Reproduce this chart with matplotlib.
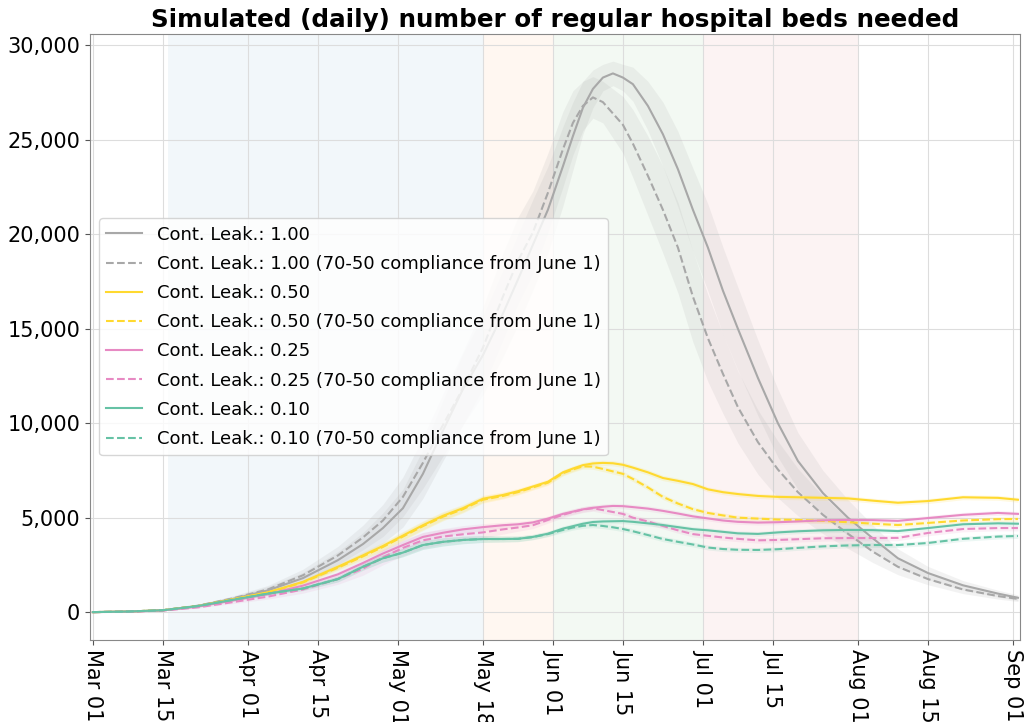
import matplotlib
matplotlib.use("Agg")
import matplotlib.pyplot as plt
import matplotlib.dates as mdates
import numpy as np
import pandas as pd

# ---------------- data ----------------
dates = ["2020-03-01", "2020-03-08", "2020-03-15", "2020-03-22", "2020-03-29",
         "2020-04-05", "2020-04-12", "2020-04-19", "2020-04-24", "2020-04-28",
         "2020-05-02", "2020-05-06", "2020-05-10", "2020-05-14", "2020-05-18",
         "2020-05-22", "2020-05-25", "2020-05-28", "2020-05-31", "2020-06-03",
         "2020-06-05", "2020-06-07", "2020-06-09", "2020-06-11", "2020-06-13",
         "2020-06-15", "2020-06-17", "2020-06-20", "2020-06-23", "2020-06-26",
         "2020-06-29", "2020-07-02", "2020-07-05", "2020-07-08", "2020-07-12",
         "2020-07-16", "2020-07-20", "2020-07-25", "2020-07-30", "2020-08-04",
         "2020-08-09", "2020-08-15", "2020-08-22", "2020-08-29", "2020-09-02"]

leak100 = [0, 30, 100, 330, 700, 1150, 1800, 2750, 3600, 4450,
           5500, 7320, 9600, 11800, 13600, 15800, 17600, 19450, 21300, 23600,
           25200, 26700, 27700, 28300, 28520, 28300, 27950, 26800, 25300, 23450,
           21300, 19300, 17020, 15000, 12400, 10000, 8000, 6300, 5000, 3900,
           2850, 2070, 1420, 980, 760]
leak100_c = [0, 30, 100, 340, 730, 1200, 1950, 3000, 3950, 4850,
             6100, 7900, 9900, 11850, 14000, 16700, 18600, 20100, 22200, 24500,
             25900, 26800, 27250, 27000, 26400, 25800, 24800, 23100, 21300, 19300,
             16700, 14500, 12620, 10850, 9000, 7550, 6350, 5150, 4150, 3200,
             2400, 1750, 1200, 850, 700]
leak050 = [0, 30, 100, 320, 680, 1050, 1600, 2400, 3000, 3500,
           4050, 4600, 5100, 5500, 6000, 6200, 6400, 6650, 6900, 7400,
           7600, 7780, 7870, 7900, 7880, 7800, 7650, 7400, 7100, 6950,
           6780, 6500, 6350, 6250, 6150, 6100, 6080, 6050, 6020, 5900,
           5790, 5880, 6080, 6050, 5950]
leak050_c = [0, 30, 100, 320, 670, 1030, 1570, 2350, 2950, 3450,
             4000, 4550, 5050, 5450, 5950, 6150, 6350, 6600, 6850, 7350,
             7550, 7720, 7700, 7580, 7450, 7320, 7050, 6600, 6100, 5750,
             5450, 5250, 5120, 5000, 4950, 4900, 4880, 4830, 4760, 4680,
             4610, 4720, 4850, 4920, 4930]
leak025 = [0, 25, 90, 290, 620, 950, 1400, 2000, 2600, 3100,
           3550, 3980, 4200, 4380, 4500, 4600, 4650, 4750, 4950, 5200,
           5320, 5440, 5520, 5580, 5620, 5610, 5560, 5480, 5360, 5220,
           5070, 4960, 4850, 4780, 4740, 4760, 4800, 4860, 4880, 4870,
           4830, 4980, 5150, 5250, 5200]
leak025_c = [0, 20, 80, 250, 530, 820, 1200, 1750, 2300, 2900,
             3400, 3800, 4000, 4120, 4220, 4380, 4480, 4600, 4880, 5150,
             5300, 5430, 5500, 5400, 5300, 5200, 5000, 4800, 4560, 4330,
             4130, 4040, 3950, 3880, 3800, 3820, 3860, 3910, 3920, 3920,
             3930, 4190, 4400, 4450, 4450]
leak010 = [0, 30, 100, 320, 650, 980, 1250, 1750, 2400, 2850,
           3150, 3550, 3720, 3820, 3870, 3870, 3880, 3980, 4150, 4420,
           4550, 4680, 4770, 4800, 4810, 4820, 4780, 4700, 4610, 4500,
           4390, 4330, 4250, 4170, 4140, 4220, 4280, 4330, 4350, 4340,
           4290, 4450, 4650, 4700, 4680]
leak010_c = [0, 30, 100, 320, 650, 980, 1250, 1750, 2400, 2850,
             3150, 3550, 3720, 3820, 3870, 3870, 3880, 3970, 4130, 4350,
             4480, 4570, 4610, 4560, 4490, 4400, 4280, 4080, 3870, 3720,
             3580, 3420, 3340, 3300, 3290, 3330, 3400, 3480, 3530, 3550,
             3550, 3660, 3880, 4000, 4030]

# half-widths of the shaded uncertainty bands
band100 = [0, 5, 20, 60, 120, 200, 300, 450, 600, 800,
           1000, 1300, 1600, 1900, 2100, 2300, 2400, 2400, 2300, 2100,
           1800, 1400, 1000, 700, 650, 700, 900, 1300, 1700, 2000,
           2200, 2300, 2300, 2200, 2000, 1800, 1500, 1200, 950, 700,
           500, 350, 250, 180, 150]
band100_c = [0, 5, 20, 60, 130, 210, 320, 480, 650, 850,
             1050, 1350, 1650, 1950, 2150, 2300, 2300, 2200, 2100, 2000,
             1700, 1300, 1100, 1100, 1300, 1500, 1800, 2100, 2300, 2400,
             2400, 2300, 2100, 1900, 1700, 1500, 1250, 1000, 780, 580,
             420, 300, 220, 160, 140]
band_small = [0, 5, 10, 25, 50, 80, 110, 150, 180, 200,
              220, 230, 220, 200, 180, 160, 150, 140, 140, 140,
              140, 140, 140, 140, 140, 140, 140, 140, 140, 140,
              130, 130, 130, 130, 130, 130, 130, 130, 130, 130,
              130, 130, 130, 130, 130]
band_pink_c = [0, 5, 15, 40, 80, 130, 200, 280, 350, 400,
               420, 420, 400, 350, 300, 250, 200, 180, 170, 160,
               160, 160, 160, 160, 160, 160, 160, 160, 150, 150,
               150, 150, 150, 150, 150, 150, 150, 150, 150, 150,
               150, 150, 150, 150, 150]

labels = ["Cont. Leak.: 1.00", "Cont. Leak.: 1.00 (70-50 compliance from June 1)",
          "Cont. Leak.: 0.50", "Cont. Leak.: 0.50 (70-50 compliance from June 1)",
          "Cont. Leak.: 0.25", "Cont. Leak.: 0.25 (70-50 compliance from June 1)",
          "Cont. Leak.: 0.10", "Cont. Leak.: 0.10 (70-50 compliance from June 1)"]
series = [leak100, leak100_c, leak050, leak050_c, leak025, leak025_c, leak010, leak010_c]
bands = [band100, band100_c, band_small, band_small, band_small, band_pink_c, band_small, band_small]
colors = ["#a8a8a8", "#a8a8a8", "#ffd92f", "#ffd92f", "#e78ac3", "#e78ac3", "#66c2a5", "#66c2a5"]
styles = ["-", "--", "-", "--", "-", "--", "-", "--"]
band_alpha = [0.14, 0.14, 0.15, 0.15, 0.12, 0.12, 0.12, 0.12]

phase_starts = ["2020-03-16", "2020-05-18", "2020-06-01", "2020-07-01"]
phase_ends = ["2020-05-18", "2020-06-01", "2020-07-01", "2020-08-01"]
phase_colors = ["tab:blue", "tab:orange", "tab:green", "tab:red"]

tick_dates = ["2020-03-01", "2020-03-15", "2020-04-01", "2020-04-15", "2020-05-01",
              "2020-05-18", "2020-06-01", "2020-06-15", "2020-07-01", "2020-07-15",
              "2020-08-01", "2020-08-15", "2020-09-01"]
yticks = [0, 5000, 10000, 15000, 20000, 25000, 30000]

# ---------------- plot ----------------
x = pd.to_datetime(dates)
fig = plt.figure(figsize=(10.27, 7.22), dpi=100)
ax = fig.add_axes([0.0876, 0.114, 0.9054, 0.839])

for s, e, c in zip(phase_starts, phase_ends, phase_colors):
    ax.axvspan(pd.Timestamp(s), pd.Timestamp(e), color=c, alpha=0.055, lw=0, zorder=0)

for vals, b, c, ls, lab, ba in zip(series, bands, colors, styles, labels, band_alpha):
    v = np.array(vals, dtype=float)
    bb = np.array(b, dtype=float)
    ax.fill_between(x, v - bb, v + bb, color=c, alpha=ba, lw=0, zorder=1)
    ax.plot(x, v, color=c, ls=ls, lw=1.5, label=lab, zorder=2)

ax.set_xlim(pd.Timestamp("2020-03-01") - pd.Timedelta(hours=14),
            pd.Timestamp("2020-09-02") + pd.Timedelta(hours=9))
ax.set_ylim(-1460, 30610)
ax.set_xticks(pd.to_datetime(tick_dates))
ax.xaxis.set_major_formatter(mdates.DateFormatter("%b %d"))
ax.set_yticks(yticks)
ax.set_yticklabels([f"{v:,}" for v in yticks])
ax.tick_params(axis="x", labelsize=15, labelrotation=270, color="#555555")
ax.tick_params(axis="y", labelsize=15, color="#555555")
ax.grid(True, color="#dddddd", lw=0.8, zorder=0)
ax.set_axisbelow(True)
for sp in ax.spines.values():
    sp.set_color("#888888")

ax.set_title("Simulated (daily) number of regular hospital beds needed",
             fontsize=17.7, fontweight="bold", pad=5)
ax.legend(loc="center left", fontsize=13, labelspacing=0.62)

fig.savefig("out.png", dpi=100)
